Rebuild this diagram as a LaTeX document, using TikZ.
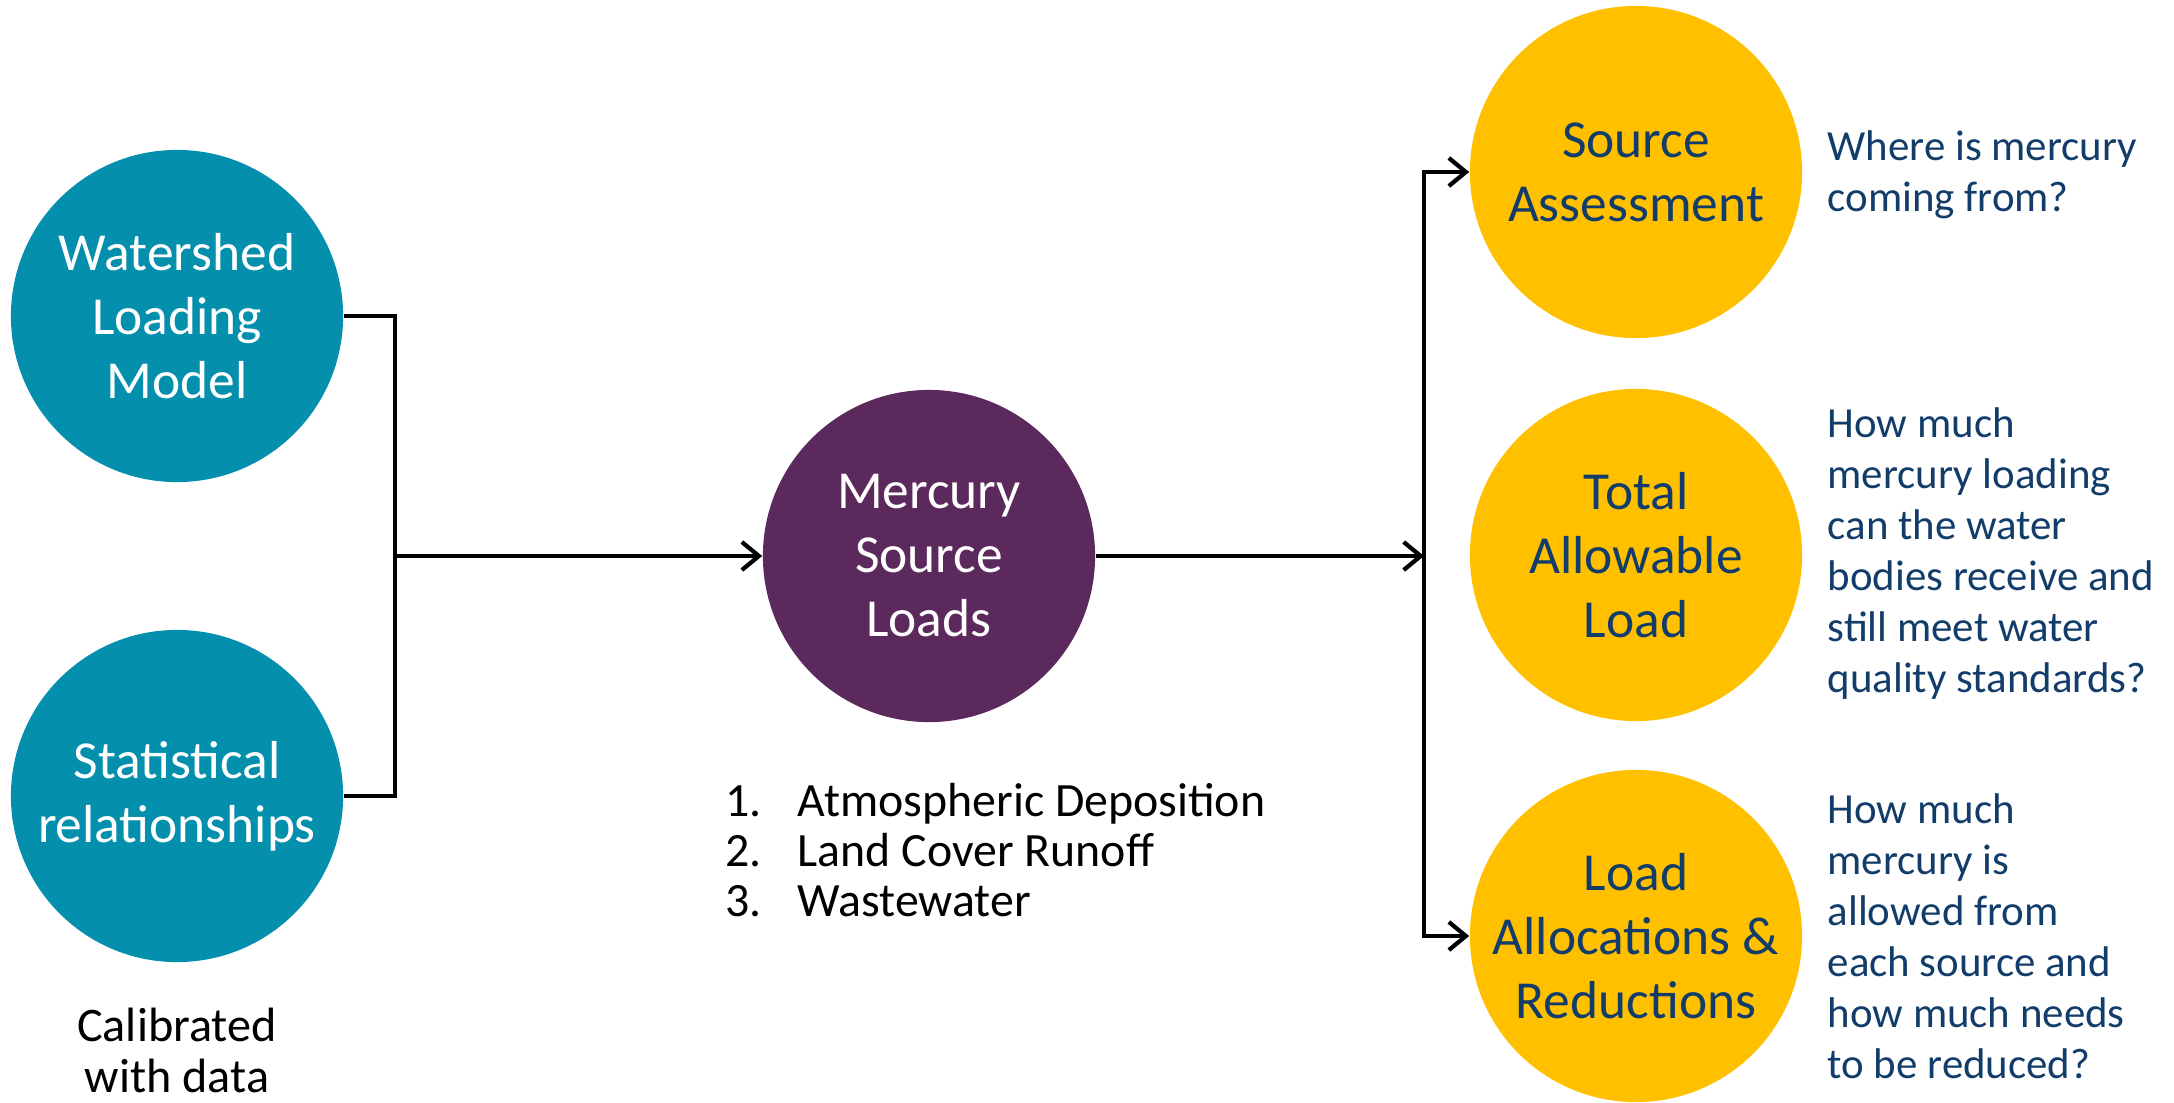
\documentclass[tikz,border=0pt]{standalone}
\usepackage{fontspec}
\setmainfont{Carlito}
\usetikzlibrary{arrows.meta}

\definecolor{wsteal}{HTML}{0490AD}
\definecolor{hgplum}{HTML}{5C295D}
\definecolor{tmdlgold}{HTML}{FFC000}
\definecolor{qnavy}{HTML}{123C69}

\begin{document}
\begin{tikzpicture}[x=0.01cm, y=0.01cm]
\tikzstyle{every node}+=[inner sep=0pt]
\tikzstyle{ball}=[circle, minimum size=3.32cm, align=center, font=\fontsize{15.2}{18.2}\selectfont]
% multi-line texts are placed by the baseline of their last line
\tikzstyle{question}=[anchor=base west, align=left, text=qnavy, font=\fontsize{12.2}{14.5}\selectfont]
\tikzstyle{link}=[black, line width=1.2pt]
\tikzstyle{tip}=[-{Straight Barb[length=1.7mm,width=2.8mm,line width=1.2pt]}]
\useasboundingbox (0,0) rectangle (2174,-1102);
% inputs
\node [ball, fill=wsteal, text=white] (wlm) at (177,-316) {Watershed\\Loading\\Model};
\node [ball, fill=wsteal, text=white] (slr) at (177,-796) {Statistical\\relationships};
\node [anchor=base, align=center, font=\fontsize{13.7}{14.3}\selectfont] (cal) at (177,-1092) {Calibrated\\with data};
% loads
\node [ball, fill=hgplum, text=white] (hg) at (929,-556) {Mercury\\Source\\Loads};
\node [anchor=base west, align=left, font=\fontsize{13.6}{14.2}\selectfont] (srcs) at (725,-916)
  {\makebox[0.72cm][l]{1.}Atmospheric Deposition\\
   \makebox[0.72cm][l]{2.}Land Cover Runoff\\
   \makebox[0.72cm][l]{3.}Wastewater};
% outputs
\node [ball, fill=tmdlgold, text=qnavy] (sa) at (1636,-172) {Source\\Assessment};
\node [ball, fill=tmdlgold, text=qnavy] (tal) at (1636,-555) {Total\\Allowable\\Load};
\node [ball, fill=tmdlgold, text=qnavy] (lar) at (1636,-936) {Load\\Allocations \&\\Reductions};
\node [question] (qsa) at (1827,-211) {Where is mercury\\coming from?};
\node [question] (qtal) at (1827,-692) {How much\\mercury loading\\can the water\\bodies receive and\\still meet water\\quality standards?};
\node [question] (qlar) at (1827,-1078) {How much\\mercury is\\allowed from\\each source and\\how much needs\\to be reduced?};
% connectors
\coordinate (join) at (395,-556);
\coordinate (fork) at (1424,-556);
\draw [link] (wlm.east) -| (join) |- (slr.east);
\draw [link, tip] (join) -- (hg.west);
\draw [link, tip] (hg.east) -- (fork);
\draw [link, tip] (fork) |- (sa.west);
\draw [link, tip] (fork) |- (lar.west);
\end{tikzpicture}
\end{document}
